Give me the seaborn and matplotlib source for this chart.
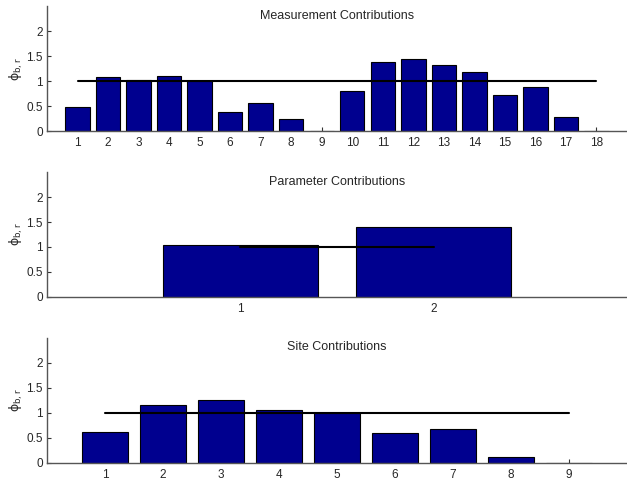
import numpy as np
import pandas as pd
import seaborn as sns
import matplotlib.pyplot as plt
from matplotlib.ticker import FuncFormatter

# vlerat e lexuara nga grafiku
masje_id = list(range(1, 19))
masje_vlera = [0.48, 1.09, 1.03, 1.10, 1.01, 0.39, 0.57, 0.25, 0.0,
               0.80, 1.39, 1.45, 1.33, 1.18, 0.73, 0.89, 0.29, 0.0]

parametra_id = [1, 2]
parametra_vlera = [1.03, 1.40]

site_id = list(range(1, 10))
site_vlera = [0.62, 1.15, 1.25, 1.06, 1.00, 0.59, 0.67, 0.12, 0.0]

titujt = ["Measurement Contributions", "Parameter Contributions", "Site Contributions"]
yticks = [0, 0.5, 1, 1.5, 2]
niveli = 1.0

sns.set_theme(style="white")
plt.rcParams['font.family'] = ['Liberation Sans', 'DejaVu Sans']
plt.rcParams['mathtext.fontset'] = 'dejavusans'

fig = plt.figure(figsize=(6.27, 4.82), dpi=100)

# pozicionet e boshteve [majtas, poshte, gjeresi, lartesi]
pozicionet = [
    [0.075, 0.728, 0.925, 0.259],
    [0.075, 0.384, 0.925, 0.259],
    [0.075, 0.040, 0.925, 0.259],
]

te_dhenat = [
    (masje_id, masje_vlera),
    (parametra_id, parametra_vlera),
    (site_id, site_vlera),
]

for poz, (ids, vlerat), titulli in zip(pozicionet, te_dhenat, titujt):
    ax = fig.add_axes(poz)
    df = pd.DataFrame({"id": ids, "vlera": vlerat})
    sns.barplot(data=df, x="id", y="vlera", native_scale=True, color="#00008F",
                saturation=1, edgecolor="black", linewidth=0.8, width=0.8, ax=ax)
    # vija e nivelit 1
    ax.plot([ids[0], ids[-1]], [niveli, niveli], color="black", lw=1.5, zorder=3)

    ax.set_xlim(0, len(ids) + 1)
    ax.set_ylim(0, 2.5)
    ax.set_xticks(ids)
    ax.set_yticks(yticks)
    ax.yaxis.set_major_formatter(FuncFormatter(lambda v, p: f"{v:g}"))
    ax.set_axisbelow(True)
    ax.tick_params(direction="in", length=3, width=0.8, color="#333333",
                   labelsize=8.5, bottom=True, left=True)
    ax.tick_params(axis="x", pad=4.5)
    ax.tick_params(axis="y", pad=3)
    ax.set_xlabel("")
    ax.set_ylabel(r"$\mathrm{\phi_{b,r}}$", fontsize=9, labelpad=1)
    ax.text(0.5, 0.924, titulli, transform=ax.transAxes, ha="center", va="center",
            fontsize=9)

    sns.despine(ax=ax)
    for s in ["left", "bottom"]:
        ax.spines[s].set_color("#555555")
        ax.spines[s].set_linewidth(1.0)

fig.savefig("out.png", dpi=100)
